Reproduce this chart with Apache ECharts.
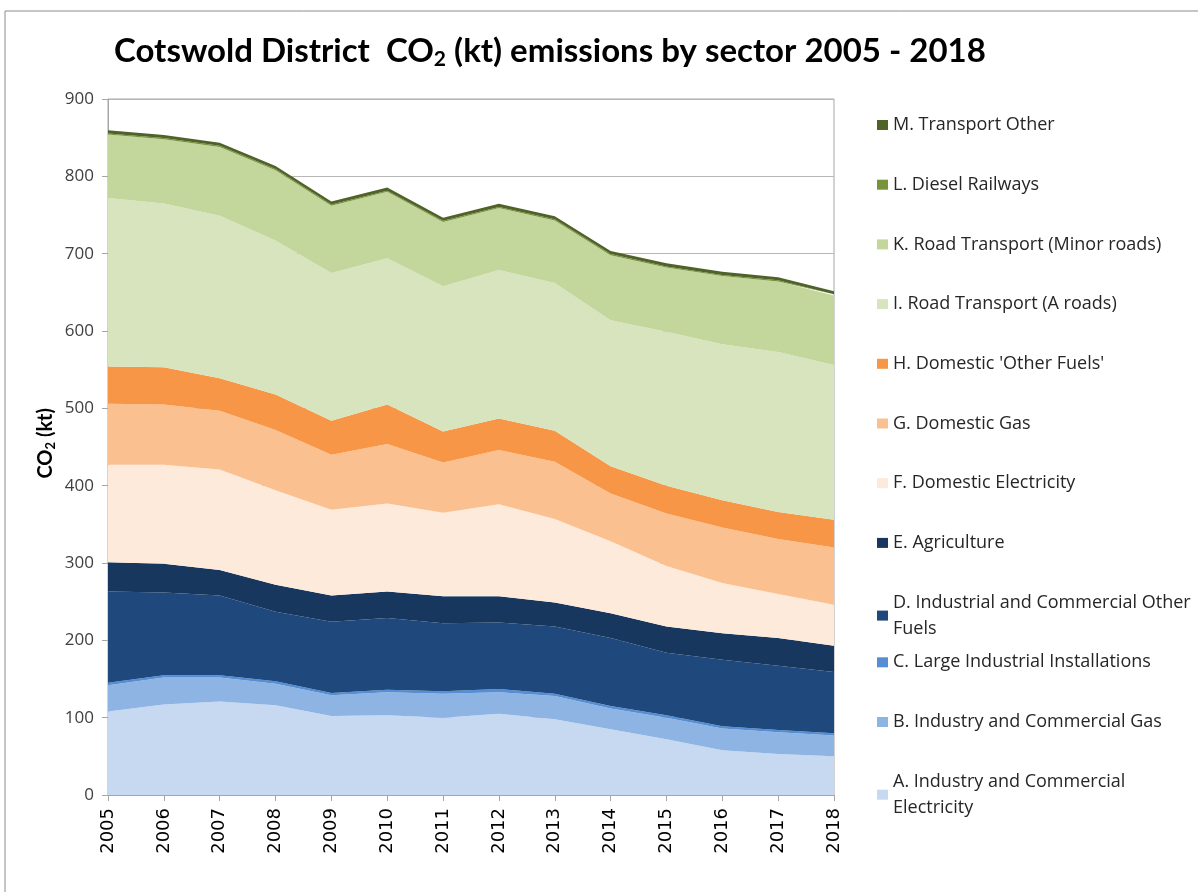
<!DOCTYPE html>
<html>
<head>
<meta charset="utf-8">
<title>Cotswold District CO2 emissions by sector</title>
<script src="https://cdn.jsdelivr.net/npm/echarts@6/dist/echarts.min.js"></script>
<style>
  html, body { margin: 0; padding: 0; background: #fff; }
  #chart { width: 1198px; height: 892px; }
</style>
</head>
<body>
<div id="chart"></div>
<script>
// years on the x axis
const years = ['2005','2006','2007','2008','2009','2010','2011','2012','2013','2014','2015','2016','2017','2018'];
const yTicks = [0, 100, 200, 300, 400, 500, 600, 700, 800, 900];

// kt CO2 (stacked from A upwards)
const indElec   = [108, 117, 121, 116, 102, 103, 100, 105, 98, 85, 72, 58, 53, 50];
const indGas    = [34, 35, 31, 28, 27, 30, 31, 28, 30, 27, 28, 28, 28, 27];
const largeInd  = [3, 3, 3, 3, 3, 3, 3, 4, 3, 3, 3, 3, 3, 3];
const indOther  = [118, 107, 103, 90, 92, 93, 88, 86, 87, 88, 81, 86, 83, 79];
const agri      = [38, 37, 33, 35, 34, 34, 35, 34, 31, 32, 34, 34, 36, 34];
const domElec   = [126, 128, 130, 122, 111, 114, 108, 119, 108, 93, 78, 65, 57, 53];
const domGas    = [79, 78, 76, 78, 71, 77, 65, 70, 74, 62, 68, 72, 71, 74];
const domOther  = [48, 48, 42, 46, 44, 51, 40, 41, 40, 35, 36, 35, 35, 36];
const roadA     = [218, 212, 210, 199, 191, 189, 188, 192, 191, 189, 199, 202, 207, 200];
const roadMinor = [82, 83, 89, 91, 87, 86, 83, 80, 81, 84, 83, 88, 91, 90];
const railways  = [1.5, 1.5, 1.5, 1.5, 1.5, 1.5, 1.5, 1.5, 1.5, 1.5, 1.5, 1.5, 1.5, 1.5];
const transOth  = [4, 4, 4, 4, 4, 4, 4, 4, 4, 4, 4, 4, 4, 4];

const sectors = [
  {name: 'A. Industry and Commercial Electricity', data: indElec, color: '#C6D9F1'},
  {name: 'B. Industry and Commercial Gas', data: indGas, color: '#8EB4E3'},
  {name: 'C. Large Industrial Installations', data: largeInd, color: '#558ED5'},
  {name: 'D. Industrial and Commercial Other Fuels', data: indOther, color: '#1F497D'},
  {name: 'E. Agriculture', data: agri, color: '#17375E'},
  {name: 'F. Domestic Electricity', data: domElec, color: '#FDEADA'},
  {name: 'G. Domestic Gas', data: domGas, color: '#FAC090'},
  {name: "H. Domestic 'Other Fuels'", data: domOther, color: '#F79646'},
  {name: 'I. Road Transport (A roads)', data: roadA, color: '#D7E4BD'},
  {name: 'K. Road Transport (Minor roads)', data: roadMinor, color: '#C3D69B'},
  {name: 'L. Diesel Railways', data: railways, color: '#77933C'},
  {name: 'M. Transport Other', data: transOth, color: '#4F6228'}
];

// legend text wraps like the original
const wrapped = {
  'D. Industrial and Commercial Other Fuels': 'D. Industrial and Commercial Other\nFuels',
  'A. Industry and Commercial Electricity': 'A. Industry and Commercial\nElectricity'
};

var myChart = echarts.init(document.getElementById('chart'));

// one legend per entry so every first line sits on the same step
var legends = sectors.slice().reverse().map(function (s, i) {
  return {
    data: [s.name],
    orient: 'vertical',
    left: 872,
    top: 107 + i * 59.7,
    icon: 'rect',
    itemWidth: 11,
    itemHeight: 10,
    itemGap: 0,
    selectedMode: false,
    formatter: function (n) { return wrapped[n] || n; },
    textStyle: {
      fontFamily: 'Open Sans',
      fontSize: 18,
      color: '#262626',
      lineHeight: 26
    }
  };
});

myChart.setOption({
  animation: false,
  backgroundColor: '#fff',
  title: {
    text: '{t|Cotswold District  CO}{s|2}{t| (kt) emissions by sector 2005 - 2018}',
    left: 109,
    top: 27,
    textStyle: {
      rich: {
        t: {fontFamily: 'Lato', fontWeight: 'bold', fontSize: 33, color: '#000'},
        s: {fontFamily: 'Lato', fontWeight: 'bold', fontSize: 21, color: '#000', padding: [17, 0, 0, 0]}
      }
    }
  },
  legend: legends,
  graphic: [{
    type: 'rect',
    shape: {x: 5, y: 11, width: 1210, height: 900},
    style: {fill: 'none', stroke: '#8c8c8c', lineWidth: 1},
    silent: true
  }, {
    type: 'text',
    left: 36,
    top: 408,
    rotation: Math.PI / 2,
    style: {
      text: '{t|CO}{s|2}{t| (kt)}',
      rich: {
        t: {fontFamily: 'Lato', fontWeight: 'bold', fontSize: 20, fill: '#000'},
        s: {fontFamily: 'Lato', fontWeight: 'bold', fontSize: 13, fill: '#000', padding: [9, 0, 0, 0]}
      }
    }
  }],
  grid: {
    left: 108,
    right: 364,
    top: 99,
    bottom: 97,
    show: true,
    borderColor: '#a6a6a6',
    borderWidth: 1
  },
  xAxis: {
    type: 'category',
    data: years,
    boundaryGap: false,
    axisLine: {lineStyle: {color: '#a6a6a6'}},
    axisTick: {show: true, length: 6, alignWithLabel: true, lineStyle: {color: '#a6a6a6'}},
    axisLabel: {
      rotate: 90,
      margin: 13,
      fontFamily: 'DejaVu Sans',
      fontSize: 18,
      color: '#000'
    }
  },
  yAxis: {
    type: 'value',
    min: yTicks[0],
    max: yTicks[yTicks.length - 1],
    interval: 100,
    axisLine: {show: true, lineStyle: {color: '#a6a6a6'}},
    axisTick: {show: true, length: 6, lineStyle: {color: '#a6a6a6'}},
    splitLine: {show: true, lineStyle: {color: '#b7b7b7'}},
    axisLabel: {
      margin: 14,
      fontFamily: 'Open Sans',
      fontSize: 17,
      color: '#404040'
    }
  },
  series: sectors.map(function (s) {
    return {
      name: s.name,
      type: 'line',
      stack: 'total',
      data: s.data,
      symbol: 'none',
      lineStyle: {width: 0, color: s.color},
      itemStyle: {color: s.color},
      areaStyle: {color: s.color, opacity: 1}
    };
  })
});
</script>
</body>
</html>
